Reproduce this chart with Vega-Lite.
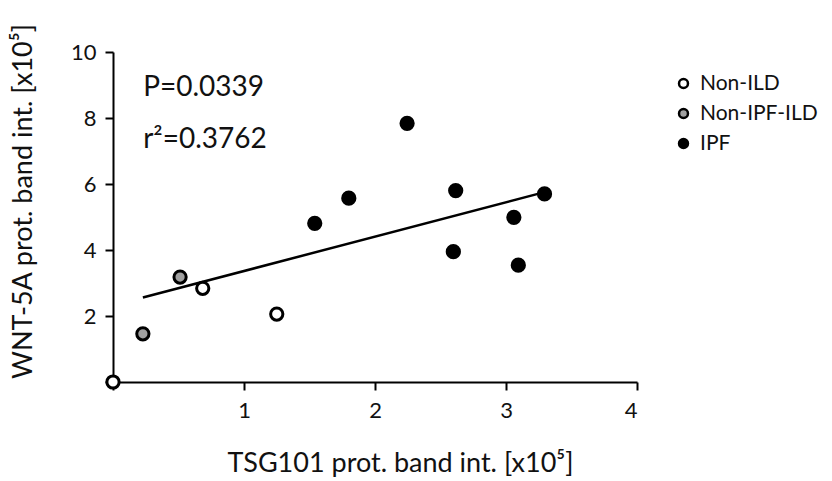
{
  "$schema": "https://vega.github.io/schema/vega-lite/v6.json",
  "width": 524,
  "height": 330,
  "autosize": {"type": "none"},
  "padding": {"left": 113, "top": 52, "right": 195, "bottom": 99},
  "background": "white",
  "config": {
    "view": {"stroke": null},
    "font": "Lato",
    "axis": {
      "domainColor": "black",
      "domainWidth": 2,
      "tickColor": "black",
      "tickWidth": 2,
      "tickSize": 8,
      "grid": false,
      "labelFont": "Lato",
      "labelFontSize": 22,
      "labelColor": "#111",
      "titleFont": "Lato",
      "titleFontSize": 27,
      "titleFontWeight": "normal",
      "titleColor": "#111",
      "zindex": 1
    }
  },
  "data": {
    "values": [
      {"tsg": 0.0, "wnt": 0.0, "group": "Non-ILD"},
      {"tsg": 0.685, "wnt": 2.84, "group": "Non-ILD"},
      {"tsg": 1.25, "wnt": 2.06, "group": "Non-ILD"},
      {"tsg": 0.228, "wnt": 1.46, "group": "Non-IPF-ILD"},
      {"tsg": 0.512, "wnt": 3.18, "group": "Non-IPF-ILD"},
      {"tsg": 1.54, "wnt": 4.81, "group": "IPF"},
      {"tsg": 1.80, "wnt": 5.57, "group": "IPF"},
      {"tsg": 2.245, "wnt": 7.84, "group": "IPF"},
      {"tsg": 2.616, "wnt": 5.80, "group": "IPF"},
      {"tsg": 2.598, "wnt": 3.95, "group": "IPF"},
      {"tsg": 3.06, "wnt": 4.99, "group": "IPF"},
      {"tsg": 3.094, "wnt": 3.54, "group": "IPF"},
      {"tsg": 3.294, "wnt": 5.70, "group": "IPF"}
    ]
  },
  "layer": [
    {
      "transform": [
        {"filter": "datum.tsg > 0"},
        {"regression": "wnt", "on": "tsg"}
      ],
      "mark": {"type": "line", "color": "black", "strokeWidth": 2.5},
      "encoding": {
        "x": {"field": "tsg", "type": "quantitative"},
        "y": {"field": "wnt", "type": "quantitative"}
      }
    },
    {
      "mark": {"type": "point", "filled": true, "shape": "circle", "size": 150, "stroke": "black", "strokeWidth": 3, "opacity": 1},
      "encoding": {
        "x": {
          "field": "tsg", "type": "quantitative",
          "scale": {"domain": [0, 4], "nice": false},
          "axis": {
            "values": [0, 1, 2, 3, 4],
            "format": "d",
            "labelExpr": "datum.value == 0 ? '' : datum.label",
            "labelPadding": 10,
            "title": "TSG101 prot. band int. [x10⁵]",
            "titleX": 287,
            "titleY": 81,
            "titleAnchor": null,
            "titleAlign": "center",
            "titleBaseline": "middle"
          }
        },
        "y": {
          "field": "wnt", "type": "quantitative",
          "scale": {"domain": [0, 10], "nice": false},
          "axis": {
            "values": [0, 2, 4, 6, 8, 10],
            "format": "d",
            "labelExpr": "datum.value == 0 ? '' : datum.label",
            "labelPadding": 9,
            "title": "WNT-5A prot. band int. [x10⁵]",
            "titleX": -90,
            "titleY": 149,
            "titleAngle": -90,
            "titleAlign": "center",
            "titleBaseline": "middle"
          }
        },
        "fill": {
          "field": "group", "type": "nominal",
          "scale": {"domain": ["Non-ILD", "Non-IPF-ILD", "IPF"], "range": ["white", "#a0a0a0", "black"]},
          "legend": {
            "title": null,
            "orient": "none",
            "legendX": 560,
            "legendY": 21,
            "symbolType": "circle",
            "symbolSize": 80,
            "symbolStrokeColor": "black",
            "symbolStrokeWidth": 2.5,
            "labelFont": "Lato",
            "labelFontSize": 21,
            "labelColor": "#111",
            "rowPadding": 8,
            "labelOffset": 6
          }
        }
      }
    },
    {
      "data": {"values": [{}]},
      "mark": {"type": "text", "text": "P=0.0339", "align": "left", "baseline": "alphabetic", "fontSize": 28, "fontWeight": "normal", "font": "Lato", "color": "#111"},
      "encoding": {
        "x": {"datum": 0.23, "type": "quantitative"},
        "y": {"datum": 8.67, "type": "quantitative"}
      }
    },
    {
      "data": {"values": [{}]},
      "mark": {"type": "text", "text": "r²=0.3762", "align": "left", "baseline": "alphabetic", "fontSize": 28, "fontWeight": "normal", "font": "Lato", "color": "#111"},
      "encoding": {
        "x": {"datum": 0.23, "type": "quantitative"},
        "y": {"datum": 7.10, "type": "quantitative"}
      }
    }
  ]
}
